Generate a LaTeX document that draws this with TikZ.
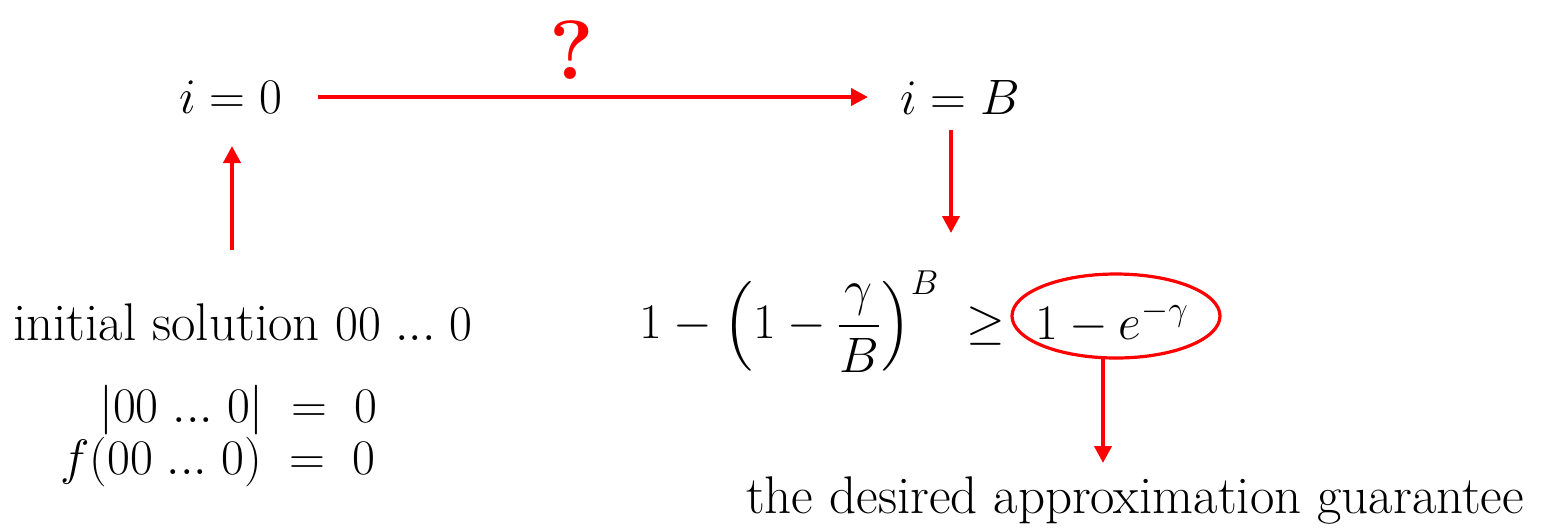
\documentclass[tikz,border=0pt]{standalone}
\usepackage{amsmath}
\usetikzlibrary{arrows.meta,shapes.geometric}
\begin{document}
\begin{tikzpicture}[x=0.5pt,y=-0.5pt,
  txt/.style={inner sep=0pt,font=\fontsize{23}{27}\selectfont},
  ptxt/.style={inner sep=0pt,font=\fontsize{26.5}{31}\selectfont},
  arr/.style={draw=red,line width=2pt,-{Triangle[length=8.5pt,width=8.5pt]}},
  ring/.style={draw=red,line width=1.6pt,ellipse,inner sep=0pt,minimum width=104pt,minimum height=42pt}]
\useasboundingbox (0,0) rectangle (1542,527);
\node[txt] (i0) at (231,97) {$i = 0$};
\node[txt] (iB) at (960,97) {$i = B$};
\node[inner sep=0pt,text=red,font=\fontsize{42}{46}\selectfont\bfseries] (q) at (572,50) {?};
\node[ptxt,anchor=west] (init) at (13,322) {initial solution $00\;...\;0$};
\node[txt,anchor=east] (abs) at (378,410) {$\lvert 00\;...\;0\rvert \;=\; 0$};
\node[txt,anchor=east] (fz) at (376,462) {$f(00\;...\;0) \;=\; 0$};
\node[txt,anchor=east] (lhs) at (1006,322) {$1-\left(1-\dfrac{\gamma}{B}\right)^{B}\;\geq$};
\node[ring] (rhs) at (1116,316) {};
\node[txt] (rhst) at (1112,322) {$1-e^{-\gamma}$};
\node[ptxt] (guar) at (1135,500) {the desired approximation guarantee};
\coordinate (hs) at (318,97);
\coordinate (he) at (868,97);
\draw[arr] (hs) -- (he);
\coordinate (us) at (232,250);
\coordinate (ue) at (232,146);
\draw[arr] (us) -- (ue);
\coordinate (ds) at (951,130);
\coordinate (de) at (951,233);
\draw[arr] (ds) -- (de);
\coordinate (gs) at (1103,358);
\coordinate (ge) at (1103,463);
\draw[arr] (gs) -- (ge);
\end{tikzpicture}
\end{document}
